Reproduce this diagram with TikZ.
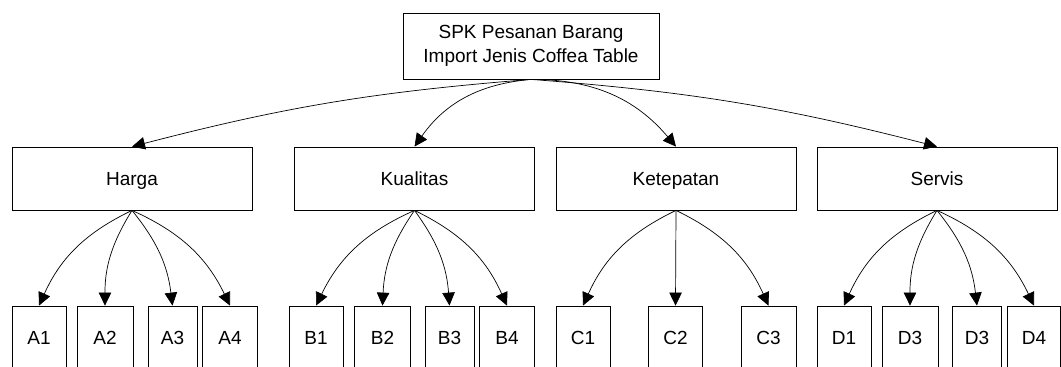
\documentclass[tikz,border=0pt]{standalone}
\usepackage{fontspec}
\setmainfont{Liberation Sans}
\usetikzlibrary{arrows.meta,positioning}
\tikzset{
  BX/.style={rectangle,draw,line width=0.8pt,
             text centered,inner sep=0pt,
             font=\fontsize{19}{23.5}\selectfont},
  nTop/.style={BX,align=center,minimum width=256,minimum height=66},
  nK/.style={BX,text height=13.6pt,text depth=0pt,minimum width=240,minimum height=63},
  nA/.style={BX,text height=13.6pt,text depth=0pt,minimum height=63},
  arr/.style={-{Triangle[length=13pt,width=12.5pt]},line width=0.7pt}
}

\begin{document}
\begin{tikzpicture}[x=1pt,y=-1pt]
  \useasboundingbox (0,0) rectangle (1061,367);
  \clip (0,0) rectangle (1061,367);

  \node[nTop] (spk) at (531,46) {SPK Pesanan Barang\\Import Jenis Coffea Table};

  \node[nK] (harga) at (132,178.5) {Harga};
  \node[nK] (kual) at (414.5,178.5) {Kualitas};
  \node[nK] (tepat) at (676,178.5) {Ketepatan};
  \node[nK] (serv) at (937,178.5) {Servis};

  \node[nA,minimum width=54] (a1) at (39,337.5) {A1};
  \node[nA,minimum width=56] (a2) at (105,337.5) {A2};
  \node[nA,minimum width=49] (a3) at (172.5,337.5) {A3};
  \node[nA,minimum width=55] (a4) at (230,337.5) {A4};

  \node[nA,minimum width=54] (b1) at (316,337.5) {B1};
  \node[nA,minimum width=56] (b2) at (382.5,337.5) {B2};
  \node[nA,minimum width=49] (b3) at (449.5,337.5) {B3};
  \node[nA,minimum width=55] (b4) at (507,337.5) {B4};

  \node[nA,minimum width=54] (c1) at (583,337.5) {C1};
  \node[nA,minimum width=54] (c2) at (675.5,337.5) {C2};
  \node[nA,minimum width=55] (c3) at (768.5,337.5) {C3};

  \node[nA,minimum width=54] (d1) at (844,337.5) {D1};
  \node[nA,minimum width=56] (d2) at (910,337.5) {D3};
  \node[nA,minimum width=49] (d3) at (977,337.5) {D3};
  \node[nA,minimum width=53] (d4) at (1034,337.5) {D4};

  \draw[arr] (spk.south) to[bend right=5] (harga.north);
  \draw[arr] (spk.south) to[bend right=25] (kual.north);
  \draw[arr] (spk.south) to[bend left=25] (tepat.north);
  \draw[arr] (spk.south) to[bend left=5] (serv.north);

  \draw[arr] (harga.south) to[bend right=20] (a1.north);
  \draw[arr] (harga.south) to[bend right=16] (a2.north);
  \draw[arr] (harga.south) to[bend left=16] (a3.north);
  \draw[arr] (harga.south) to[bend left=20] (a4.north);

  \draw[arr] (kual.south) to[bend right=20] (b1.north);
  \draw[arr] (kual.south) to[bend right=16] (b2.north);
  \draw[arr] (kual.south) to[bend left=16] (b3.north);
  \draw[arr] (kual.south) to[bend left=20] (b4.north);

  \draw[arr] (tepat.south) to[bend right=20] (c1.north);
  \draw[arr] (tepat.south) -- (c2.north);
  \draw[arr] (tepat.south) to[bend left=20] (c3.north);

  \draw[arr] (serv.south) to[bend right=20] (d1.north);
  \draw[arr] (serv.south) to[bend right=16] (d2.north);
  \draw[arr] (serv.south) to[bend left=16] (d3.north);
  \draw[arr] (serv.south) to[bend left=20] (d4.north);
\end{tikzpicture}
\end{document}
